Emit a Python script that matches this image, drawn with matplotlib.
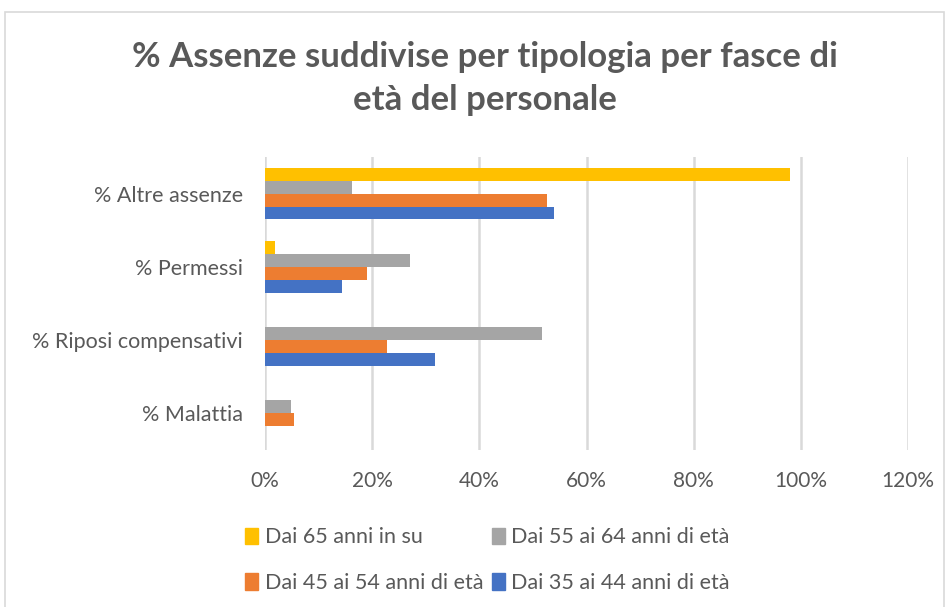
import numpy as np
import matplotlib.pyplot as plt
from matplotlib.patches import Rectangle, Patch
from matplotlib.ticker import PercentFormatter

plt.rcParams['font.family'] = ['Lato', 'DejaVu Sans']

categories = ['% Malattia', '% Riposi compensativi', '% Permessi', '% Altre assenze']
series = ['Dai 65 anni in su', 'Dai 55 ai 64 anni di età',
          'Dai 45 ai 54 anni di età', 'Dai 35 ai 44 anni di età']
v65 = [0.0, 0.0, 1.9, 98.0]
v55 = [4.9, 51.7, 27.0, 16.3]
v45 = [5.4, 22.8, 19.1, 52.6]
v35 = [0.0, 31.7, 14.3, 54.0]
colors = ['#FFC000', '#A5A5A5', '#ED7D31', '#4472C4']
txt = '#595959'

fig = plt.figure(figsize=(9.47, 6.07), dpi=100)
ax = fig.add_axes([265/947, 1-450/607, (908-265)/947, (450-157)/607])

y = np.arange(len(categories))
h = 0.176
offs = [1.5, 0.5, -0.5, -1.5]
for vals, c, o in zip([v65, v55, v45, v35], colors, offs):
    ax.barh(y + o*h, vals, height=h, color=c, zorder=3)

ax.set_xlim(0, 120)
ax.set_ylim(-0.5, 3.5)
ax.set_xticks(np.arange(0, 121, 20))
ax.xaxis.set_major_formatter(PercentFormatter(decimals=0))
ax.set_yticks(y)
ax.set_yticklabels(categories)
ax.tick_params(length=0, colors=txt)
ax.tick_params(axis='x', pad=15, labelsize=15)
ax.tick_params(axis='y', pad=16, labelsize=15.5)
ax.grid(axis='x', color='#D9D9D9', lw=1.8, zorder=0)
for s in ax.spines.values():
    s.set_visible(False)

fig.text(0.512, 1-57/607, '% Assenze suddivise per tipologia per fasce di',
         ha='center', va='center', fontsize=25, fontweight='bold', color=txt)
fig.text(0.512, 1-100/607, 'età del personale',
         ha='center', va='center', fontsize=25, fontweight='bold', color=txt)

handles = [Patch(color=c) for c in colors]
order = [0, 2, 1, 3]
fig.legend([handles[i] for i in order], [series[i] for i in order],
           ncol=2, loc='upper left', bbox_to_anchor=(226/947, 1-508/607),
           frameon=False, fontsize=15.5, labelcolor=txt,
           handlelength=0.6, handleheight=0.8, handletextpad=0.3,
           columnspacing=0.4, labelspacing=1.2)

fig.patches.append(Rectangle((5/947, -0.01), 939/947, 1-12/607+0.01,
                             transform=fig.transFigure, fill=False,
                             edgecolor='#D9D9D9', lw=1.2))

fig.savefig('out.png', dpi=100)
